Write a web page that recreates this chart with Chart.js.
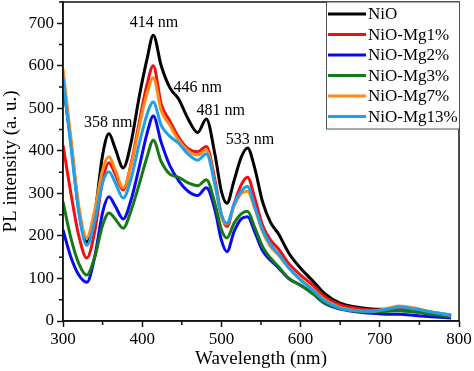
<!DOCTYPE html>
<html>
<head>
<meta charset="utf-8">
<script src="https://cdn.jsdelivr.net/npm/chart.js@4.4.1/dist/chart.umd.min.js"></script>
<style>
  html, body { margin: 0; padding: 0; background: #fff; }
</style>
</head>
<body>
<canvas id="plChart" width="474" height="371"></canvas>
<script>
// wavelength grid (nm)
const wavelengths = [300, 310, 320, 330, 340, 350, 358, 366, 376, 386, 396, 406, 414, 424, 435, 446, 458, 470, 481, 492, 500, 507, 516, 525, 533, 542, 552, 562, 572, 585, 600, 615, 630, 650, 670, 690, 710, 725, 745, 765, 790];

// PL intensity per sample (a. u.)
const nio     = [560, 420, 260, 186, 250, 390, 440, 405, 360, 420, 525, 615, 672, 600, 548, 522, 475, 443, 475, 390, 305, 277, 330, 385, 407, 360, 280, 232, 205, 160, 124, 95, 65, 42, 33, 28, 27, 25, 22, 17, 12];
const mg1     = [414, 300, 200, 148, 210, 330, 372, 345, 308, 370, 465, 555, 600, 510, 470, 432, 405, 398, 410, 330, 250, 222, 275, 320, 338, 290, 225, 190, 170, 135, 108, 85, 58, 38, 30, 26, 26, 28, 24, 18, 12];
const mg2     = [214, 150, 108, 91, 150, 255, 292, 270, 240, 285, 360, 440, 482, 420, 365, 330, 305, 295, 313, 260, 190, 163, 210, 240, 245, 210, 165, 143, 125, 100, 84, 65, 42, 28, 22, 18, 16, 16, 13, 10, 7];
const mg3     = [280, 195, 135, 108, 150, 225, 254, 240, 218, 260, 320, 385, 425, 375, 345, 338, 325, 318, 332, 275, 215, 195, 230, 252, 258, 220, 175, 148, 128, 100, 84, 65, 43, 29, 23, 21, 23, 24, 21, 16, 10];
const mg7     = [592, 430, 270, 196, 260, 355, 386, 355, 313, 365, 455, 535, 572, 495, 460, 425, 400, 390, 402, 320, 245, 228, 270, 300, 305, 265, 210, 175, 155, 125, 98, 75, 50, 32, 25, 23, 30, 35, 30, 22, 14];
const mg13    = [572, 410, 255, 178, 235, 325, 351, 325, 289, 335, 415, 485, 515, 460, 434, 418, 392, 378, 393, 320, 250, 230, 275, 305, 316, 270, 215, 180, 158, 125, 96, 73, 48, 30, 24, 23, 28, 33, 28, 21, 14];

const seriesNames = ['NiO', 'NiO-Mg1%', 'NiO-Mg2%', 'NiO-Mg3%', 'NiO-Mg7%', 'NiO-Mg13%'];
const xTicks = [300, 400, 500, 600, 700, 800];
const yTicks = [0, 100, 200, 300, 400, 500, 600, 700];
const xMinor = [350, 450, 550, 650, 750];
const yMinor = [50, 150, 250, 350, 450, 550, 650, 750];

// peak annotations: text, wavelength, intensity where the label sits
const peakText = ['358 nm', '414 nm', '446 nm', '481 nm', '533 nm'];
const peakAt = [[357, 466], [415, 702], [470, 549], [499, 494], [536, 426]];

const colors = ['#000000', '#f01010', '#0a0af0', '#157a15', '#ff8a1a', '#1ea0ea'];
const drawOrder = [5, 4, 3, 2, 1, 0];
const serif = '"Liberation Serif", "Times New Roman", serif';

const allSeries = [nio, mg1, mg2, mg3, mg7, mg13];
const datasets = allSeries.map((vals, i) => ({
    label: seriesNames[i],
    data: wavelengths.map((w, j) => ({ x: w, y: vals[j] })),
    borderColor: colors[i],
    borderWidth: 3,
    pointRadius: 0,
    fill: false,
    cubicInterpolationMode: 'monotone',
    order: drawOrder[i]
}));

// frame, minor ticks, peak labels and the boxed legend
const extrasPlugin = {
    id: 'extras',
    afterDraw(chart) {
        const ctx = chart.ctx;
        const a = chart.chartArea;
        const x = chart.scales.x;
        const y = chart.scales.y;
        ctx.save();

        ctx.strokeStyle = '#111';
        ctx.lineWidth = 1.5;
        ctx.strokeRect(a.left, a.top, a.right - a.left, a.bottom - a.top);

        ctx.beginPath();
        yMinor.forEach(v => {
            const py = y.getPixelForValue(v);
            ctx.moveTo(a.left - 4, py);
            ctx.lineTo(a.left, py);
        });
        xMinor.forEach(v => {
            const px = x.getPixelForValue(v);
            ctx.moveTo(px, a.bottom);
            ctx.lineTo(px, a.bottom + 4);
        });
        ctx.stroke();

        ctx.fillStyle = '#000';
        ctx.font = '16px ' + serif;
        ctx.textAlign = 'center';
        ctx.textBaseline = 'middle';
        peakText.forEach((t, i) => {
            ctx.fillText(t, x.getPixelForValue(peakAt[i][0]), y.getPixelForValue(peakAt[i][1]));
        });

        // legend box in the top right corner
        const boxLeft = 326, boxTop = a.top, rowH = 20.5;
        const boxH = rowH * seriesNames.length + 4;
        ctx.fillStyle = '#fff';
        ctx.fillRect(boxLeft, boxTop, a.right - boxLeft, boxH);
        ctx.strokeStyle = '#555';
        ctx.lineWidth = 1;
        ctx.strokeRect(boxLeft + 0.5, boxTop, a.right - boxLeft, boxH);
        ctx.font = '17px ' + serif;
        ctx.textAlign = 'left';
        seriesNames.forEach((name, i) => {
            const cy = boxTop + 12 + i * rowH;
            ctx.strokeStyle = colors[i];
            ctx.lineWidth = 3;
            ctx.beginPath();
            ctx.moveTo(boxLeft + 2, cy);
            ctx.lineTo(boxLeft + 40, cy);
            ctx.stroke();
            ctx.fillStyle = '#000';
            ctx.fillText(name, boxLeft + 42, cy + 1);
        });

        ctx.restore();
    }
};

const ctx = document.getElementById('plChart').getContext('2d');
const plChart = new Chart(ctx, {
    type: 'line',
    data: { datasets: datasets },
    options: {
        responsive: false,
        animation: false,
        layout: { padding: { top: 2, right: 15, left: 0, bottom: 0 } },
        plugins: { legend: { display: false }, tooltip: { enabled: false } },
        scales: {
            x: {
                type: 'linear',
                min: 300,
                max: 800,
                afterBuildTicks: s => { s.ticks = xTicks.map(v => ({ value: v })); },
                afterFit: s => { s.height = 50; },
                ticks: { font: { family: serif, size: 17 }, color: '#000', padding: 2, maxRotation: 0 },
                grid: { drawOnChartArea: false, tickLength: 6, color: '#111', tickWidth: 1.5 },
                border: { color: '#111', width: 1.5 },
                title: { display: true, text: 'Wavelength (nm)', font: { family: serif, size: 19 }, color: '#000', padding: { top: 0, bottom: 1 } }
            },
            y: {
                min: 0,
                max: 750,
                afterBuildTicks: s => { s.ticks = yTicks.map(v => ({ value: v })); },
                afterFit: s => { s.width = 63; s.paddingTop = 0; s.paddingBottom = 0; },
                ticks: { font: { family: serif, size: 17 }, color: '#000', padding: 3 },
                grid: { drawOnChartArea: false, tickLength: 6, color: '#111', tickWidth: 1.5 },
                border: { color: '#111', width: 1.5 },
                title: { display: true, text: 'PL intensity (a. u.)', font: { family: serif, size: 19 }, color: '#000', padding: { top: 0, bottom: 0 } }
            }
        }
    },
    plugins: [extrasPlugin]
});
</script>
</body>
</html>
